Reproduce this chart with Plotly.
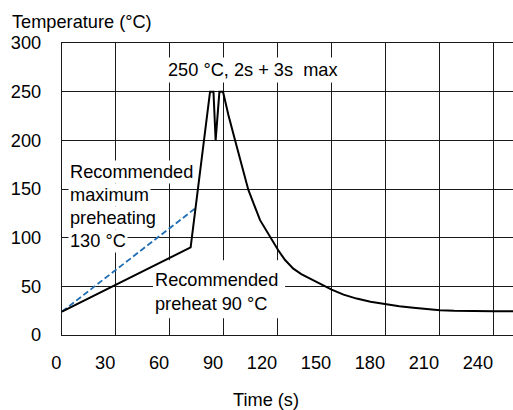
import plotly.graph_objects as go

# Reflow profile (time in s, temperature in °C)
profile_time = [0, 71.5, 82.3, 84.2, 85.4, 87.5, 89.5, 92.5, 96.2, 100.0, 103.6, 110.1,
                115.6, 120.2, 124.0, 128.6, 133.0, 137.9, 143.5, 149.9, 156.5, 163.8,
                171.5, 180.1, 187.5, 195.3, 202.5, 210.1, 218.0, 226.8, 239.7, 251.0]
profile_temp = [24, 90, 250, 250, 200, 250, 250, 226, 200, 173, 149, 118,
                100.6, 87, 77, 68.2, 62.5, 57.9, 52.5, 46.6, 41.5, 37.4,
                34.2, 31.5, 29.6, 28.1, 26.6, 25.4, 24.8, 24.3, 24.3, 24.3]

# Recommended maximum preheating line
max_preheat_time = [0, 74]
max_preheat_temp = [24, 130]

x_tick_vals = [0, 30, 60, 90, 120, 150, 180, 210, 240]
x_tick_text = ["0", "30", "60", "90", "120", "150", "180", "210", "240"]
y_tick_vals = [0, 50, 100, 150, 200, 250, 300]
y_tick_text = ["0", "50", "100", "150", "200", "250", "300"]

left_note_lines = ["Recommended", "maximum", "preheating", "130 °C"]
left_note_y = [167.7, 144.1, 120.4, 96.8]

FONT = "Arial, 'Liberation Sans', Helvetica, sans-serif"
FS = 18.2

fig = go.Figure()
fig.add_trace(go.Scatter(x=max_preheat_time, y=max_preheat_temp, mode="lines",
                         line=dict(color="#1f6db3", width=1.8, dash="6px,3px"),
                         hoverinfo="skip"))
fig.add_trace(go.Scatter(x=profile_time, y=profile_temp, mode="lines",
                         line=dict(color="black", width=2), hoverinfo="skip"))

annotations = []
# Axis titles
annotations.append(dict(text="Temperature (°C)", xref="paper", yref="paper",
                        x=(10 - 62) / 451, y=1 + (43 - 22) / 292,
                        xanchor="left", yanchor="middle", showarrow=False,
                        font=dict(size=FS, color="black", family=FONT)))
annotations.append(dict(text="Time (s)", xref="paper", yref="paper",
                        x=(266 - 62) / 451, y=-(399.5 - 335) / 292,
                        xanchor="center", yanchor="middle", showarrow=False,
                        font=dict(size=FS, color="black", family=FONT)))
# Peak note
annotations.append(dict(text="250 °C, 2s + 3s\u00a0 max", x=106, y=271.8,
                        xanchor="center", yanchor="middle", showarrow=False,
                        bgcolor="white", borderpad=2,
                        font=dict(size=FS, color="black", family=FONT)))
# Left note, one background per line
for line_text, yy in zip(left_note_lines, left_note_y):
    annotations.append(dict(text=line_text, x=3.2, y=yy, xanchor="left",
                            yanchor="middle", showarrow=False, bgcolor="white",
                            borderpad=1,
                            font=dict(size=FS, color="black", family=FONT)))
# Bottom note (its white background sits between the grid and the curve)
annotations.append(dict(text="Recommended<br>preheat 90 °C", x=48.4, y=44.6,
                        xanchor="left", yanchor="middle", align="left",
                        showarrow=False, borderpad=5,
                        font=dict(size=FS, color="black", family=FONT)))

shapes = [dict(type="rect", xref="x", yref="y", x0=50.6, x1=124.0, y0=17.2, y1=76.7,
               fillcolor="white", line=dict(width=0), layer="between")]

fig.update_layout(
    width=513, height=410,
    margin=dict(l=62, r=0, t=43, b=75),
    plot_bgcolor="white", paper_bgcolor="white",
    showlegend=False,
    font=dict(family=FONT, size=FS, color="black"),
    annotations=annotations,
    shapes=shapes,
    xaxis=dict(range=[0, 250.7], tickvals=x_tick_vals, ticktext=x_tick_text,
               showgrid=True, gridcolor="#1a1a1a", gridwidth=1.2,
               showline=True, linecolor="#1a1a1a", linewidth=1.4, mirror=True,
               zeroline=False, ticks="", ticklabelposition="outside left",
               ticklabelstandoff=11, automargin=False,
               tickfont=dict(size=FS, color="black")),
    yaxis=dict(range=[0, 300], tickvals=y_tick_vals, ticktext=y_tick_text,
               showgrid=True, gridcolor="#1a1a1a", gridwidth=1.2,
               showline=True, linecolor="#1a1a1a", linewidth=1.4,
               zeroline=False, ticks="", ticklabelstandoff=16, automargin=False,
               tickfont=dict(size=FS, color="black")),
)

fig.write_html("out.html", config={"displayModeBar": False},
               post_script="document.body.style.margin='0';document.body.style.padding='0';")
